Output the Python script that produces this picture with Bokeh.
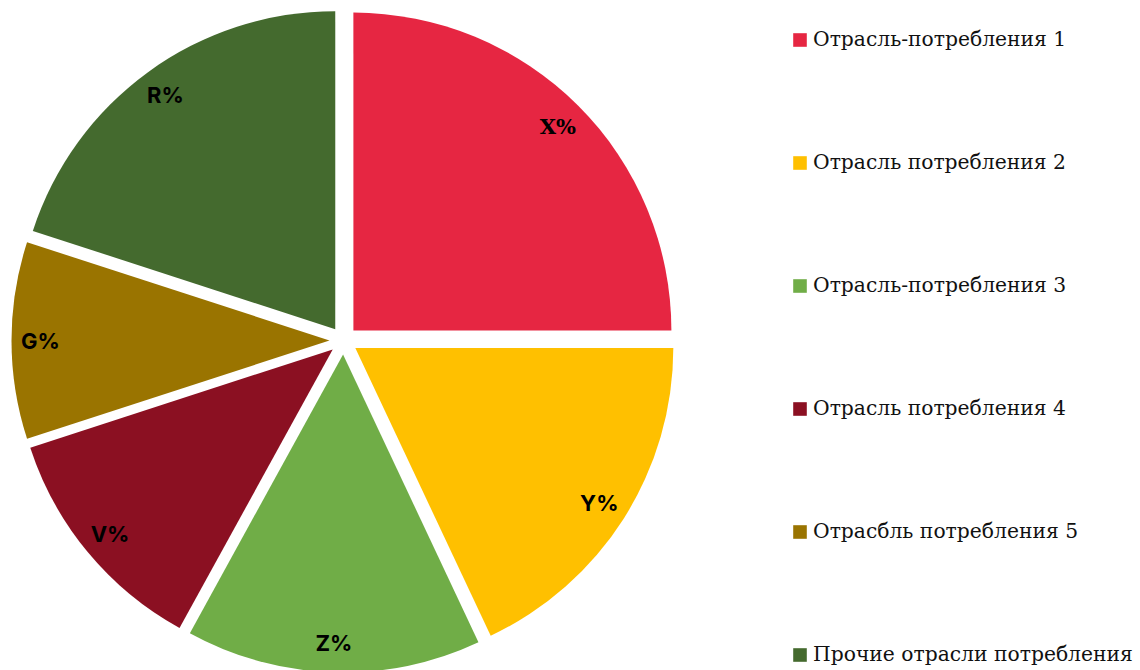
import math
from bokeh.plotting import figure
from bokeh.models import ColumnDataSource, Range1d, Legend, LegendItem
from bokeh.embed import file_html
from bokeh.resources import INLINE

categories = ["Отрасль-потребления 1", "Отрасль потребления 2", "Отрасль-потребления 3",
              "Отрасль потребления 4", "Отрасбль потребления 5", "Прочие отрасли потребления"]
values = [25, 18, 15, 12, 10, 20]
slice_labels = ["X%", "Y%", "Z%", "V%", "G%", "R%"]
colors = ["#E62642", "#FFC000", "#70AD47", "#8B1022", "#9A7400", "#446A2E"]

W, H = 1140, 670
CX, CY = 343, 330
R = 318
EXPLODE = 14
LABEL_R = 303

total = float(sum(values))
starts, ends, xs, ys, lx, ly = [], [], [], [], [], []
a = math.pi / 2
for v in values:
    span = 2 * math.pi * v / total
    s, e = a - span, a
    mid = (s + e) / 2
    starts.append(s)
    ends.append(e)
    xs.append(CX + EXPLODE * math.cos(mid))
    ys.append(CY + EXPLODE * math.sin(mid))
    lx.append(CX + LABEL_R * math.cos(mid))
    ly.append(CY + LABEL_R * math.sin(mid))
    a = s

p = figure(width=W, height=H, output_backend="svg", toolbar_location=None,
           x_range=Range1d(0, W), y_range=Range1d(0, H), min_border=0,
           border_fill_color="white", background_fill_color="white")
p.axis.visible = False
p.grid.visible = False
p.outline_line_color = None

items = []
for i in range(len(values)):
    r = p.wedge(x=xs[i], y=ys[i], radius=R, start_angle=starts[i], end_angle=ends[i],
                fill_color=colors[i], line_color=None)
    items.append(LegendItem(label=categories[i], renderers=[r]))

lab_src = ColumnDataSource(dict(x=lx[1:], y=ly[1:], t=slice_labels[1:]))
p.text(x="x", y="y", text="t", source=lab_src, text_align="center", text_baseline="middle",
       text_font={"value": "Inter"}, text_font_style="bold", text_font_size="22px",
       text_color="black")
x_src = ColumnDataSource(dict(x=lx[:1], y=ly[:1], t=slice_labels[:1]))
p.text(x="x", y="y", text="t", source=x_src, text_align="center", text_baseline="middle",
       text_font={"value": "DejaVu Serif"}, text_font_style="bold", text_font_size="21px",
       text_color="black")

legend = Legend(items=items, location=(791, 4), orientation="vertical",
                glyph_width=17, glyph_height=17, label_height=24, spacing=99,
                label_standoff=5, padding=0, margin=0,
                border_line_color=None, background_fill_alpha=0,
                label_text_font="DejaVu Serif", label_text_font_size="20.3px",
                label_text_color="#111111")
p.add_layout(legend)

open("out.html", "w").write(file_html(p, INLINE))
